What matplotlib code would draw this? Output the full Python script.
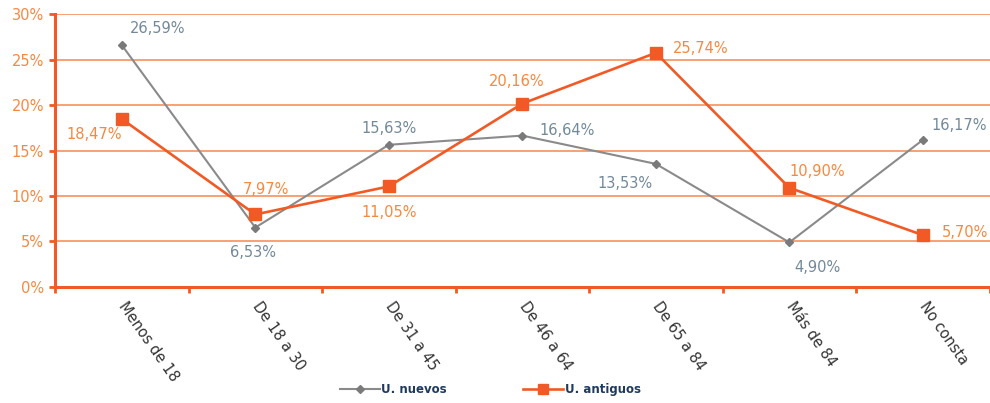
import matplotlib
matplotlib.use("Agg")
import matplotlib.pyplot as plt
from matplotlib.ticker import FuncFormatter, MultipleLocator

categories = ["Menos de 18", "De 18 a 30", "De 31 a 45", "De 46 a 64",
              "De 65 a 84", "Más de 84", "No consta"]
nuevos = [26.59, 6.53, 15.63, 16.64, 13.53, 4.90, 16.17]
antiguos = [18.47, 7.97, 11.05, 20.16, 25.74, 10.90, 5.70]

# label offsets in points (dx, dy) and alignment for each point
nuevos_pos = [(6, 12, "left"), (-2, -18, "center"), (0, 12, "center"), (12, 4, "left"),
              (-22, -14, "center"), (20, -18, "center"), (6, 10, "left")]
antiguos_pos = [(-20, -11, "center"), (8, 18, "center"), (0, -19, "center"), (-4, 16, "center"),
                (12, 3, "left"), (0, 12, "left"), (14, 2, "left")]

ORANGE = "#F15A24"
GRID = "#F7905E"
TICK = "#F7883F"
GREY = "#8A8A8A"
GREY_TXT = "#72899A"
NAVY = "#1F3A5F"

fig = plt.figure(figsize=(9.9, 4.03), dpi=100)
ax = fig.add_axes([0.0556, 0.288, 0.944, 0.677])

x = list(range(len(categories)))
ln1, = ax.plot(x, nuevos, color=GREY, lw=1.5, marker="D", ms=4.5,
               markerfacecolor="#7a7a7a", markeredgecolor="#7a7a7a", zorder=3, label="U. nuevos")
ln2, = ax.plot(x, antiguos, color=ORANGE, lw=1.9, marker="s", ms=9,
               markerfacecolor=ORANGE, markeredgecolor=ORANGE, zorder=4, label="U. antiguos")

for i, v in enumerate(nuevos):
    dx, dy, ha = nuevos_pos[i]
    ax.annotate(f"{v:.2f}%".replace(".", ","), (i, v), xytext=(dx, dy),
                textcoords="offset points", ha=ha, va="center",
                fontsize=10.5, color=GREY_TXT)
for i, v in enumerate(antiguos):
    dx, dy, ha = antiguos_pos[i]
    ax.annotate(f"{v:.2f}%".replace(".", ","), (i, v), xytext=(dx, dy),
                textcoords="offset points", ha=ha, va="center",
                fontsize=10.5, color=TICK)

ax.set_xlim(-0.5, len(categories) - 0.5)
ax.set_ylim(0, 30)
ax.yaxis.set_major_locator(MultipleLocator(5))
ax.yaxis.set_major_formatter(FuncFormatter(lambda v, p: f"{v:.0f}%"))
ax.grid(axis="y", color=GRID, lw=1.2, zorder=0)
ax.set_axisbelow(True)

ax.set_xticks([i - 0.5 for i in range(len(categories) + 1)])
ax.set_xticklabels([])
ax.set_xticks(x, minor=True)
ax.set_xticklabels(categories, minor=True, rotation=-55, ha="left", va="center",
                   rotation_mode="anchor", fontsize=10.5, color="#333333")
ax.tick_params(axis="x", which="minor", length=0, pad=12)
ax.tick_params(axis="x", which="major", length=4, width=2, color=ORANGE, direction="out")
ax.tick_params(axis="y", length=4, width=2, color=ORANGE, labelcolor=TICK, labelsize=10.5, pad=4)

for s in ["top", "right"]:
    ax.spines[s].set_visible(False)
for s in ["left", "bottom"]:
    ax.spines[s].set_color(ORANGE)
    ax.spines[s].set_linewidth(2.2)

leg = fig.legend(handles=[ln1, ln2], loc="center", bbox_to_anchor=(0.495, 0.033), ncol=2,
                 frameon=False, fontsize=8.5, handlelength=3.4, columnspacing=6.5,
                 handletextpad=0.1, markerscale=0.8)
for t in leg.get_texts():
    t.set_color(NAVY)
    t.set_fontweight("bold")

fig.savefig("out.png", dpi=100)
